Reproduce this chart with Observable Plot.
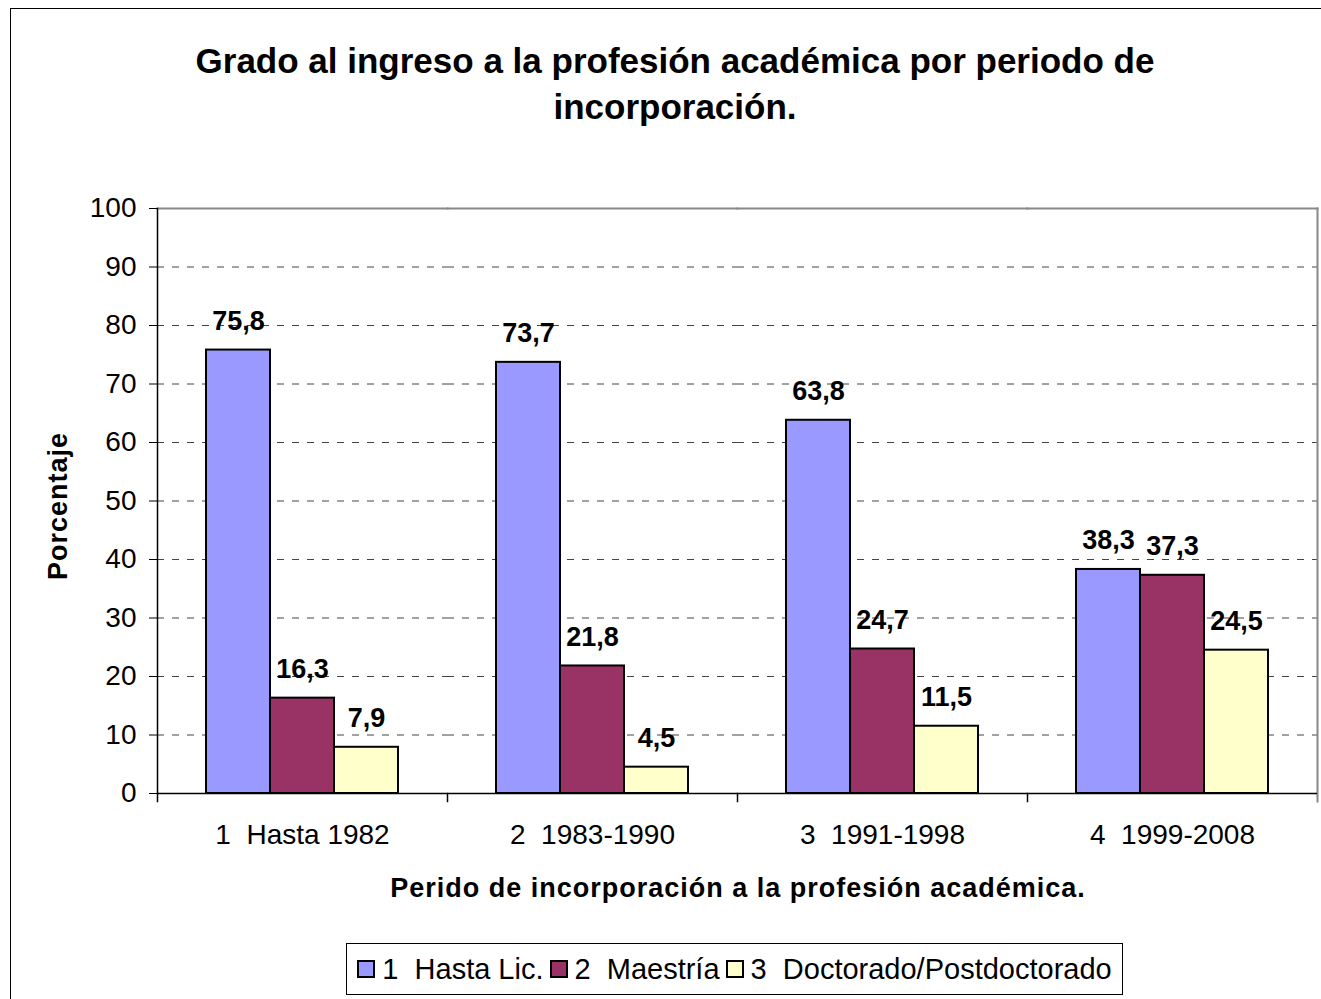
<!DOCTYPE html>
<html><head><meta charset="utf-8">
<script src="https://cdn.jsdelivr.net/npm/d3@7"></script>
<script src="https://cdn.jsdelivr.net/npm/@observablehq/plot@0.6"></script>
<style>
body{margin:0;background:#fff;font-family:"Liberation Sans",Arial,sans-serif;overflow:hidden;width:1321px;height:999px;position:relative}
#outer{position:absolute;left:10px;top:8px;width:1340px;height:1020px;border:1px solid #000;box-sizing:border-box}
#title{position:absolute;left:0;top:38px;width:1350px;text-align:center;font-weight:bold;font-size:35px;line-height:46px;color:#000}
#chart{position:absolute;left:0;top:150px}
#ytitle{position:absolute;left:58px;top:506px;transform:translate(-50%,-50%) rotate(-90deg);font-weight:bold;font-size:27px;letter-spacing:1px;white-space:nowrap}
#xtitle{position:absolute;left:738px;top:888px;transform:translate(-50%,-50%);font-weight:bold;font-size:27px;white-space:nowrap;letter-spacing:1px}
#legend{position:absolute;left:346px;top:943px;width:777px;height:52px;border:1px solid #000;box-sizing:border-box;display:flex;align-items:center;justify-content:center;font-size:29px;white-space:pre}
#legend .item{display:flex;align-items:center;margin:0 3px}
#legend .sw{width:14px;height:14px;border:2px solid #000;margin-right:7px}
</style></head>
<body>
<div id="outer"></div>
<div id="title">Grado al ingreso a la profesión académica por periodo de<br>incorporación.</div>
<div id="chart"></div>
<div id="ytitle">Porcentaje</div>
<div id="xtitle">Perido de incorporación a la profesión académica.</div>
<div id="legend"></div>
<script>
const periods = ["1\u00a0 Hasta 1982", "2\u00a0 1983-1990", "3\u00a0 1991-1998", "4\u00a0 1999-2008"];
const series = ["1  Hasta Lic.", "2  Maestría", "3  Doctorado/Postdoctorado"];
const hastaLic = [75.8, 73.7, 63.8, 38.3];
const maestria = [16.3, 21.8, 24.7, 37.3];
const doctorado = [7.9, 4.5, 11.5, 24.5];
const yTicks = [0, 10, 20, 30, 40, 50, 60, 70, 80, 90, 100];
const colors = ["#9999FF", "#993366", "#FFFFCC"];

const seriesValues = [hastaLic, maestria, doctorado];
const data = [];
periods.forEach((p, i) => series.forEach((s, j) => data.push({period: p, series: s, value: seriesValues[j][i]})));
const fmt = v => v.toFixed(1).replace(".", ",");

const plotH = 585;
const chart = Plot.plot({
  width: 1321, height: 760,
  marginLeft: 155, marginRight: 3, marginTop: 58, marginBottom: 117,
  style: {fontFamily: '"Liberation Sans", Arial, sans-serif', color: "#000", background: "transparent"},
  fx: {domain: periods, padding: 0, label: null},
  x: {domain: series, paddingInner: 0, paddingOuter: 0.74, axis: null},
  y: {domain: [0, 100], label: null},
  color: {domain: series, range: colors},
  marks: [
    Plot.gridY(yTicks.filter(t => t > 0 && t < 100), {stroke: "#444", strokeOpacity: 1, strokeDasharray: "7,8"}),
    Plot.frame({anchor: "top", stroke: "#888", strokeWidth: 2}),
    Plot.frame({anchor: "right", stroke: "#888", strokeWidth: 2, facetAnchor: "right", insetBottom: -8}),
    Plot.frame({anchor: "left", stroke: "#000", strokeWidth: 1.5, facetAnchor: "left"}),
    Plot.frame({anchor: "left", stroke: "#000", strokeWidth: 1.5, insetTop: plotH, insetBottom: -8}),
    Plot.barY(data, {fx: "period", x: "series", y: "value", fill: "series", stroke: "#000", strokeWidth: 2}),
    Plot.ruleY([0], {stroke: "#000", strokeWidth: 1.5}),
    Plot.text(data, {fx: "period", x: "series", y: "value", text: d => fmt(d.value), dy: -20, lineAnchor: "bottom", fontWeight: "bold", fontSize: 27, fill: "#000"}),
    Plot.axisY({ticks: yTicks, tickSize: 8, tickPadding: 13, fontSize: 28, label: null, stroke: "#000"}),
    Plot.axisFx({anchor: "bottom", tickSize: 0, tickPadding: 31, fontSize: 28, label: null})
  ]
});
document.getElementById("chart").appendChild(chart);

const legend = document.getElementById("legend");
series.forEach((s, j) => {
  const it = document.createElement("div");
  it.className = "item";
  const sw = document.createElement("div");
  sw.className = "sw";
  sw.style.background = colors[j];
  const t = document.createElement("span");
  t.textContent = s;
  it.appendChild(sw); it.appendChild(t);
  legend.appendChild(it);
});
</script>
</body></html>
